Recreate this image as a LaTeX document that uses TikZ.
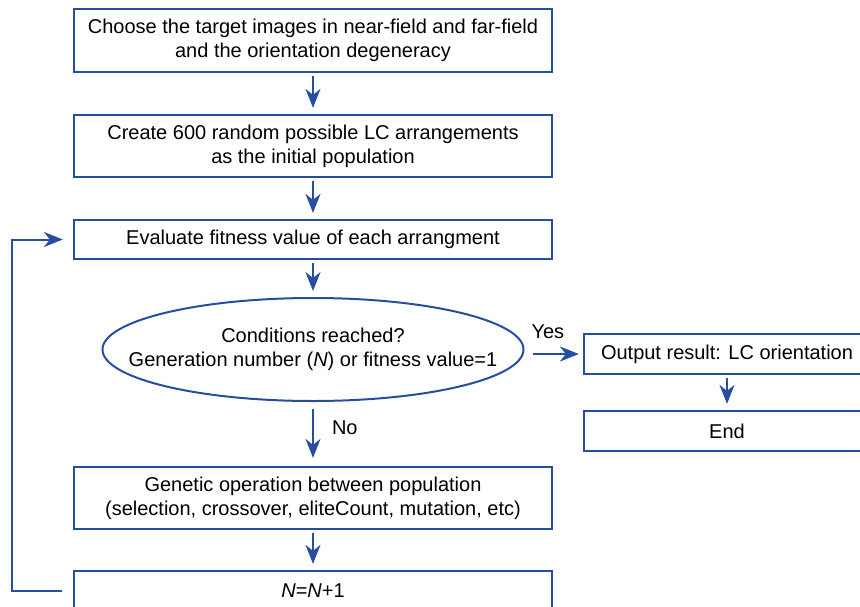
\documentclass[tikz,border=0pt]{standalone}
\usepackage{fontspec}
\setmainfont{Liberation Sans}
\usepackage{xcolor}
\usetikzlibrary{shapes.geometric,arrows.meta}
\definecolor{flowblue}{RGB}{38,78,160}

\begin{document}
\begin{tikzpicture}[x=1pt,y=-1pt]
\tikzstyle{every node}+=[inner sep=0pt,font=\fontsize{20}{24}\selectfont,align=center]
\tikzstyle{box}=[draw=flowblue,line width=2.2pt,rectangle,minimum width=478pt]
\tikzstyle{arr}=[draw=flowblue,line width=2pt,-{Stealth[length=19pt,width=15pt,inset=6pt]}]
\useasboundingbox (0,0) rectangle (860,606);
\node [box,minimum height=63pt] (choose) at (313,40.5) {Choose the target images in near-field and far-field\\and the orientation degeneracy};
\node [box,minimum height=62pt] (create) at (313,146) {Create 600 random possible LC arrangements\\as the initial population};
\node [box,minimum height=39pt] (eval) at (313,239.5) {Evaluate fitness value of each arrangment};
\node [draw=flowblue,line width=2pt,ellipse,minimum width=421pt,minimum height=103pt] (cond) at (313,349.5) {};
\node (condtext) at (cond.center) {Conditions reached?\\Generation number (\textit{N}) or fitness value=1};
\node [box,minimum width=286pt,minimum height=40pt] (output) at (727,354) {Output result: LC orientation};
\node [box,minimum width=286pt,minimum height=40pt] (end) at (727,431) {End};
\node [box,minimum height=62pt] (genetic) at (313,498) {Genetic operation between population\\(selection, crossover, eliteCount, mutation, etc)};
\node [box,minimum height=39pt] (count) at (313,590.5) {\textit{N}=\textit{N}+1};
\coordinate (loopcorner) at (12,0);
\draw [arr,shorten <=3pt,shorten >=6pt] (choose) -- (create);
\draw [arr,shorten <=3pt,shorten >=6pt] (create) -- (eval);
\draw [arr,shorten <=3pt,shorten >=6pt] (eval) -- (cond);
\draw [arr,shorten <=8pt,shorten >=4pt] (cond.east|-output.west) -- (output.west) node [pos=0.4,above=14pt] {Yes};
\draw [arr,shorten <=3pt,shorten >=6pt] (output) -- (end);
\draw [arr,shorten <=7pt,shorten >=8pt] (cond) -- (genetic) node [midway,right=18pt,yshift=6pt] {No};
\draw [arr,shorten <=3pt,shorten >=6pt] (genetic) -- (count);
\draw [arr,shorten >=10pt] ([xshift=-11pt]count.west) -| (loopcorner|-eval.west) -- (eval.west);
\end{tikzpicture}
\end{document}
